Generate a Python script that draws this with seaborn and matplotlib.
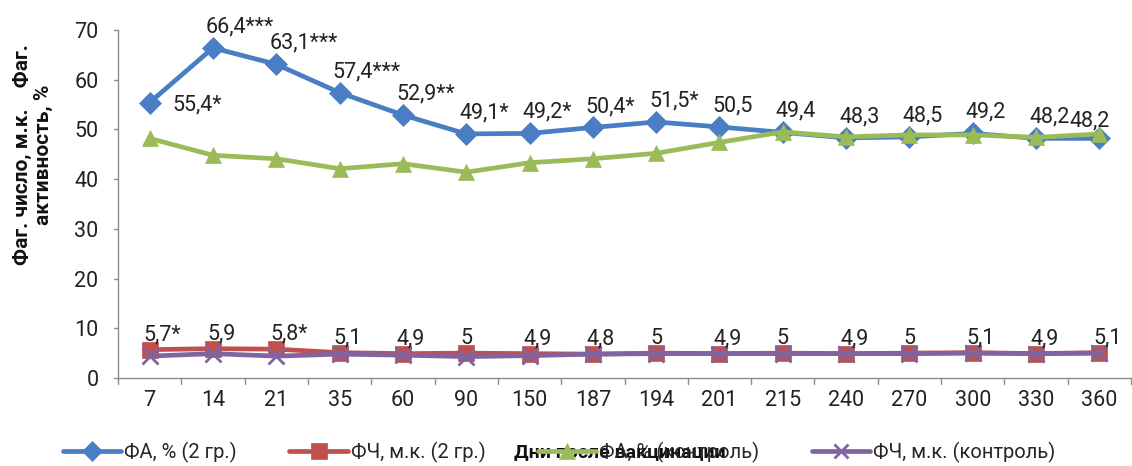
import matplotlib
matplotlib.use("Agg")
import matplotlib.pyplot as plt
import seaborn as sns
import pandas as pd

days = ["7", "14", "21", "35", "60", "90", "150", "187", "194", "201", "215", "240", "270", "300", "330", "360"]
fa_2gr = [55.4, 66.4, 63.1, 57.4, 52.9, 49.1, 49.2, 50.4, 51.5, 50.5, 49.4, 48.3, 48.5, 49.2, 48.2, 48.2]
fch_2gr = [5.7, 5.9, 5.8, 5.1, 4.9, 5.0, 4.9, 4.8, 5.0, 4.9, 5.0, 4.9, 5.0, 5.1, 4.9, 5.1]
fa_ctrl = [48.2, 44.8, 44.1, 42.1, 43.1, 41.4, 43.3, 44.1, 45.2, 47.4, 49.5, 48.5, 48.9, 48.9, 48.4, 49.1]
fch_ctrl = [4.4, 4.9, 4.4, 4.8, 4.6, 4.3, 4.5, 4.8, 4.9, 4.9, 4.9, 4.9, 4.9, 5.0, 4.9, 5.0]

fa_2gr_labels = ["55,4*", "66,4***", "63,1***", "57,4***", "52,9**", "49,1*", "49,2*", "50,4*",
                 "51,5*", "50,5", "49,4", "48,3", "48,5", "49,2", "48,2", "48,2"]
fch_2gr_labels = ["5,7*", "5,9", "5,8*", "5,1", "4,9", "5", "4,9", "4,8", "5", "4,9", "5", "4,9",
                  "5", "5,1", "4,9", "5,1"]

names = ["ФА, % (2 гр.)", "ФЧ, м.к. (2 гр.)", "ФА, % (контроль)", "ФЧ, м.к. (контроль)"]

sns.set_theme(style="white")
plt.rcParams['font.family'] = ['Roboto', 'DejaVu Sans']

fig = plt.figure(figsize=(11.32, 4.66), dpi=100)
ax = fig.add_axes([118 / 1132, 1 - 378 / 466, 1013 / 1132, 348 / 466])

blue = "#4A7EC4"
red = "#C0504D"
green = "#9BBB59"
purple = "#8064A2"

df = pd.DataFrame({"day": days * 4,
                   "value": fa_2gr + fch_2gr + fa_ctrl + fch_ctrl,
                   "series": sum([[n] * len(days) for n in names], [])})

styles = {
    names[0]: dict(color=blue, marker="D", ms=11),
    names[1]: dict(color=red, marker="s", ms=12),
    names[2]: dict(color=green, marker="^", ms=12),
    names[3]: dict(color=purple, marker="x", ms=11),
}
order_draw = [names[1], names[3], names[0], names[2]]
for n in order_draw:
    st = styles[n]
    sub = df[df["series"] == n]
    sns.lineplot(data=sub, x="day", y="value", ax=ax, color=st["color"], lw=3.4,
                 marker=st["marker"], markersize=st["ms"], markeredgecolor=st["color"],
                 markeredgewidth=2 if st["marker"] == "x" else 0.5, label=n, sort=False)

ax.set_xlim(-0.5, len(days) - 0.5)
ax.set_ylim(0, 70)
ax.set_yticks(range(0, 71, 10))
ax.set_xticks(range(len(days)))
ax.set_xticklabels(days)
ax.set_xlabel("")
ax.set_ylabel("")
ax.tick_params(axis="both", labelsize=15.5, colors="#222222", length=0, pad=9)
ax.tick_params(axis="y", pad=14)
for x in range(len(days) + 1):
    ax.plot([x - 0.5, x - 0.5], [0, -1.3], color="#8c8c8c", lw=1, clip_on=False)
for y in range(0, 71, 10):
    ax.plot([-0.5 - 0.06, -0.5], [y, y], color="#8c8c8c", lw=1, clip_on=False)

for s in ["top", "right"]:
    ax.spines[s].set_visible(False)
for s in ["left", "bottom"]:
    ax.spines[s].set_color("#8c8c8c")
    ax.spines[s].set_linewidth(1)

# data labels
for i, (v, t) in enumerate(zip(fa_2gr, fa_2gr_labels)):
    if i == 0:
        off = (23, -2)
    elif i == len(fa_2gr) - 1:
        off = (-30, 17)
    else:
        off = (-7, 21)
    ax.annotate(t, (i, v), xytext=off, textcoords="offset pixels", ha="left", va="center",
                fontsize=15.5, color="#222222")
for i, (v, t) in enumerate(zip(fch_2gr, fch_2gr_labels)):
    ax.annotate(t, (i, v), xytext=(-6, 15), textcoords="offset pixels", ha="left", va="center",
                fontsize=15.5, color="#222222")

h, l = ax.get_legend_handles_labels()
hl = dict(zip(l, h))
ax.get_legend().remove()
fig.legend([hl[n] for n in names], names, loc="center", bbox_to_anchor=(0.494, 1 - 452 / 466),
           ncol=4, frameon=False, fontsize=14.5, handlelength=2.9, columnspacing=2.6,
           handletextpad=0.15, markerscale=0.95)

fig.text(514 / 1132, 1 - 452 / 466, "Дни после вакцинации", fontsize=14, fontweight="bold",
         ha="left", va="center", color="#111111")

fig.text(33 / 1132, 1 - 155 / 466, "Фаг. число, м.к.    Фаг.\nактивность, %", rotation=90,
         ha="center", va="center", multialignment="center", fontsize=15, fontweight="bold",
         color="#111111", linespacing=1.1)

fig.savefig("out.png", dpi=100)
